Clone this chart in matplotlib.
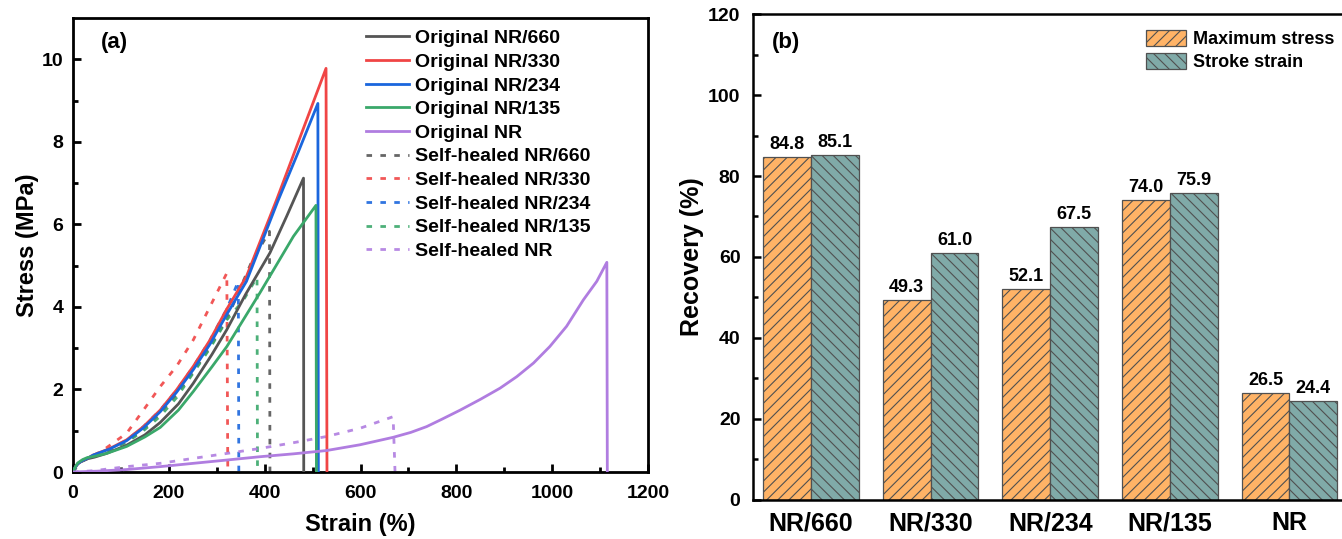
import matplotlib
matplotlib.use("Agg")
import matplotlib.pyplot as plt
import numpy as np

plt.rcParams['font.family'] = ['Liberation Sans', 'DejaVu Sans']
plt.rcParams['font.weight'] = 'bold'
plt.rcParams['hatch.linewidth'] = 0.8

# ---- (a) tensile curves: strain (%) / stress (MPa) ----
orig_660_x = [0, 5, 10, 20, 30, 45, 70, 112, 150, 182, 220, 251, 290, 321, 360, 411, 446, 481, 481.5]
orig_660_y = [0, 0.12, 0.2, 0.28, 0.32, 0.36, 0.45, 0.65, 0.9, 1.2, 1.65, 2.15, 2.85, 3.45, 4.3, 5.31, 6.2, 7.12, 0]

orig_330_x = [0, 5, 10, 20, 30, 42, 77, 112, 147, 182, 216, 251, 286, 321, 362, 425, 480, 528, 530]
orig_330_y = [0, 0.12, 0.2, 0.28, 0.33, 0.41, 0.57, 0.78, 1.10, 1.50, 1.99, 2.56, 3.2, 3.95, 4.74, 6.6, 8.3, 9.78, 0]

orig_234_x = [0, 5, 10, 20, 30, 42, 77, 112, 147, 182, 216, 251, 286, 321, 362, 427, 470, 511, 512]
orig_234_y = [0, 0.12, 0.2, 0.28, 0.33, 0.41, 0.56, 0.76, 1.07, 1.46, 1.93, 2.48, 3.1, 3.82, 4.62, 6.55, 7.75, 8.93, 0]

orig_135_x = [0, 5, 10, 20, 30, 45, 70, 112, 150, 182, 220, 251, 290, 321, 390, 460, 507, 508]
orig_135_y = [0, 0.13, 0.22, 0.3, 0.35, 0.38, 0.45, 0.62, 0.85, 1.08, 1.5, 1.95, 2.55, 3.04, 4.34, 5.71, 6.46, 0]

orig_nr_x = [0, 50, 112, 182, 251, 321, 390, 460, 529, 599, 668, 705, 738, 770, 808, 850, 891, 926, 961, 995,
             1030, 1065, 1093, 1114, 1115]
orig_nr_y = [0, 0.02, 0.06, 0.13, 0.21, 0.29, 0.37, 0.44, 0.52, 0.66, 0.84, 0.96, 1.10, 1.28, 1.50, 1.76, 2.03,
             2.31, 2.64, 3.04, 3.53, 4.17, 4.62, 5.08, 0]

heal_660_x = [0, 10, 20, 40, 77, 112, 147, 182, 216, 251, 286, 321, 373, 410, 411]
heal_660_y = [0, 0.18, 0.27, 0.37, 0.55, 0.74, 1.03, 1.42, 1.88, 2.42, 3.03, 3.7, 5.1, 5.83, 0]

heal_330_x = [0, 10, 20, 40, 63, 112, 147, 182, 216, 251, 286, 321, 323]
heal_330_y = [0, 0.18, 0.27, 0.38, 0.53, 0.94, 1.5, 2.07, 2.56, 3.2, 4.01, 4.82, 0]

heal_234_x = [0, 10, 20, 40, 77, 112, 147, 182, 216, 251, 286, 321, 345, 346]
heal_234_y = [0, 0.18, 0.27, 0.38, 0.56, 0.77, 1.1, 1.5, 1.98, 2.55, 3.2, 3.95, 4.62, 0]

heal_135_x = [0, 10, 20, 40, 77, 112, 147, 182, 216, 251, 286, 321, 355, 384, 385]
heal_135_y = [0, 0.18, 0.27, 0.37, 0.54, 0.72, 1.0, 1.35, 1.8, 2.4, 3.0, 3.69, 4.15, 4.72, 0]

heal_nr_x = [0, 42, 112, 182, 251, 321, 390, 460, 529, 599, 668, 672]
heal_nr_y = [0, 0.03, 0.13, 0.21, 0.33, 0.45, 0.57, 0.71, 0.86, 1.06, 1.34, 0]

# ---- (b) recovery ----
samples = ['NR/660', 'NR/330', 'NR/234', 'NR/135', 'NR']
max_stress = [84.8, 49.3, 52.1, 74.0, 26.5]
stroke_strain = [85.1, 61.0, 67.5, 75.9, 24.4]

c_gray = '#555555'
c_red = '#f04545'
c_blue = '#1a66dd'
c_green = '#3aa86a'
c_purple = '#b07de0'

fig = plt.figure(figsize=(13.42, 5.39), dpi=100)
ax1 = fig.add_axes([0.0544, 0.1243, 0.4285, 0.8423])
ax2 = fig.add_axes([0.5611, 0.0724, 0.4389, 0.9016])

lw = 2.0
dash = (0, (2, 3))
solid_sets = [
    (orig_660_x, orig_660_y, c_gray, 'Original NR/660'),
    (orig_330_x, orig_330_y, c_red, 'Original NR/330'),
    (orig_234_x, orig_234_y, c_blue, 'Original NR/234'),
    (orig_135_x, orig_135_y, c_green, 'Original NR/135'),
    (orig_nr_x, orig_nr_y, c_purple, 'Original NR'),
]
dash_sets = [
    (heal_660_x, heal_660_y, c_gray, 'Self-healed NR/660'),
    (heal_330_x, heal_330_y, c_red, 'Self-healed NR/330'),
    (heal_234_x, heal_234_y, c_blue, 'Self-healed NR/234'),
    (heal_135_x, heal_135_y, c_green, 'Self-healed NR/135'),
    (heal_nr_x, heal_nr_y, c_purple, 'Self-healed NR'),
]

handles = []
for x, y, c, lab in solid_sets:
    h, = ax1.plot(x, y, color=c, lw=lw, label=lab, zorder=3)
    handles.append(h)
for x, y, c, lab in dash_sets:
    h, = ax1.plot(x, y, color=c, lw=lw, ls=dash, label=lab, alpha=0.9, zorder=2)
    handles.append(h)

ax1.set_xlim(0, 1200)
ax1.set_ylim(0, 11)
ax1.set_xticks(np.arange(0, 1201, 200))
ax1.set_xticks(np.arange(100, 1200, 200), minor=True)
ax1.set_yticks(np.arange(0, 11, 2))
ax1.set_yticks(np.arange(1, 11, 2), minor=True)
ax1.tick_params(which='major', direction='in', length=6, width=2, labelsize=14)
ax1.tick_params(axis='x', which='major', pad=9)
ax1.tick_params(axis='y', which='major', pad=7)
ax1.tick_params(which='minor', direction='in', length=3.5, width=2)
for s in ax1.spines.values():
    s.set_linewidth(2)
ax1.set_xlabel('Strain (%)', fontsize=17, fontweight='bold', labelpad=8)
ax1.set_ylabel('Stress (MPa)', fontsize=17, fontweight='bold', labelpad=2)
ax1.text(0.049, 0.935, '(a)', transform=ax1.transAxes, fontsize=16, fontweight='bold')
ax1.legend(handles=handles, loc='upper left', bbox_to_anchor=(0.49, 1.0), frameon=False,
           fontsize=14, handlelength=2.2, handletextpad=0.28, labelspacing=0.31, borderaxespad=0.2)

# bars
pos = np.arange(len(samples))
w = 0.4
b1 = ax2.bar(pos - w / 2, max_stress, w, color='#ffb366', edgecolor='#505050', hatch='///', lw=0.9,
             label='Maximum stress')
b2 = ax2.bar(pos + w / 2, stroke_strain, w, color='#80aaa8', edgecolor='#505050', hatch='\\\\\\', lw=0.9,
             label='Stroke strain')
for bars, vals in ((b1, max_stress), (b2, stroke_strain)):
    for r, v in zip(bars, vals):
        ax2.text(r.get_x() + r.get_width() / 2, v + 1.0, f'{v:.1f}', ha='center', va='bottom',
                 fontsize=13, fontweight='bold')

ax2.set_xlim(-0.485, 4.44)
ax2.set_ylim(0, 120)
ax2.set_xticks(pos)
ax2.set_xticklabels(samples, fontsize=18, fontweight='bold')
ax2.set_yticks(np.arange(0, 121, 20))
ax2.set_yticks(np.arange(10, 120, 20), minor=True)
ax2.tick_params(axis='x', length=0, pad=8)
ax2.tick_params(axis='y', which='major', direction='in', length=6, width=1.8, labelsize=14, pad=9)
ax2.tick_params(axis='y', which='minor', direction='in', length=3.5, width=1.8)
for s in ax2.spines.values():
    s.set_linewidth(1.8)
ax2.spines['right'].set_visible(False)
ax2.set_ylabel('Recovery (%)', fontsize=18, fontweight='bold', labelpad=3)
ax2.text(0.032, 0.93, '(b)', transform=ax2.transAxes, fontsize=16, fontweight='bold')
ax2.legend(loc='upper right', bbox_to_anchor=(1.015, 1.0), frameon=False, fontsize=13,
           handlelength=2.2, handleheight=0.95, handletextpad=0.39, labelspacing=0.28)

plt.savefig('out.png', dpi=100)
